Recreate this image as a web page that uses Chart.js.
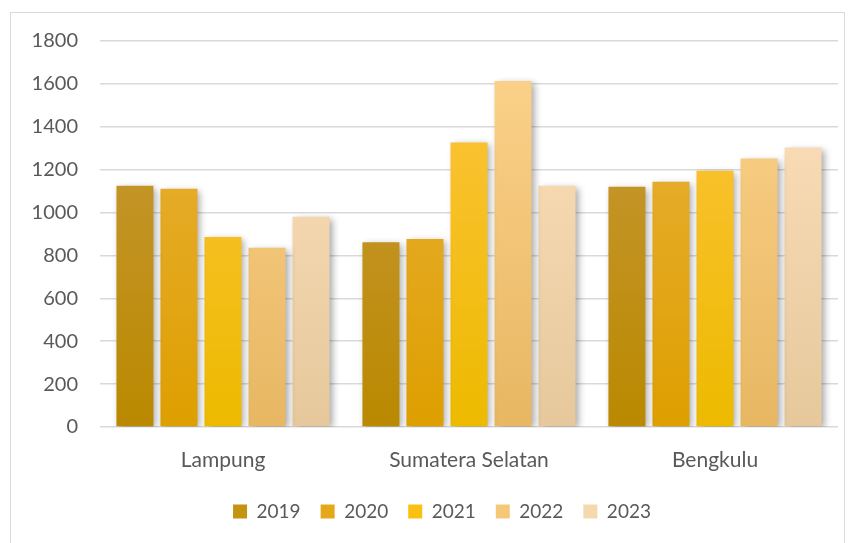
<!DOCTYPE html>
<html>
<head>
<meta charset="utf-8">
<script src="https://cdn.jsdelivr.net/npm/chart.js@4"></script>
<style>
  html, body { margin: 0; padding: 0; background: #fff; }
  #wrap { position: relative; width: 854px; height: 543px; }
  #frame { position: absolute; left: 10px; top: 12px; width: 835px; height: 540px; border: 1px solid #d9d9d9; box-sizing: border-box; }
  canvas { position: absolute; left: 0; top: 0; }
</style>
</head>
<body>
<div id="wrap">
  <div id="frame"></div>
  <canvas id="chart" width="854" height="543"></canvas>
</div>
<script>
// Data
const regions = ['Lampung', 'Sumatera Selatan', 'Bengkulu'];
const years = ['2019', '2020', '2021', '2022', '2023'];
const v2019 = [1125, 862, 1120];
const v2020 = [1111, 877, 1144];
const v2021 = [886, 1327, 1195];
const v2022 = [836, 1613, 1252];
const v2023 = [980, 1125, 1303];
const yTicks = [0, 200, 400, 600, 800, 1000, 1200, 1400, 1600, 1800];

// gradient colours, top -> bottom
const topColors = ['#C99B3E', '#EAB23F', '#FEC43F', '#FDD38D', '#FEE2BD'];
const bottomColors = ['#BA8900', '#DE9F00', '#EDBA00', '#E7B762', '#E6C89C'];
const midColors = ['#C4930F', '#E5A81A', '#FBC112', '#F5C878', '#F4D8AE'];

function gradientFor(i) {
    return (context) => {
        const chart = context.chart;
        const area = chart.chartArea;
        if (!area) return midColors[i];
        const g = chart.ctx.createLinearGradient(0, area.top, 0, area.bottom);
        g.addColorStop(0, topColors[i]);
        g.addColorStop(1, bottomColors[i]);
        return g;
    };
}

const series = [v2019, v2020, v2021, v2022, v2023];

const shadowPlugin = {
    id: 'barShadow',
    beforeDatasetsDraw(chart) {
        const ctx = chart.ctx;
        ctx.save();
        ctx.shadowColor = 'rgba(0,0,0,0.35)';
        ctx.shadowBlur = 7;
        ctx.shadowOffsetX = 3;
        ctx.shadowOffsetY = 2;
    },
    afterDatasetsDraw(chart) {
        chart.ctx.restore();
    }
};

// legend in the reference sits a bit right of the canvas centre
const legendShift = {
    id: 'legendShift',
    afterLayout(chart) {
        if (!chart.legend) return;
        chart.legend.left += 23;
        chart.legend.right += 23;
    }
};

new Chart(document.getElementById('chart'), {
    type: 'bar',
    data: {
        labels: regions,
        datasets: years.map((y, i) => ({
            label: y,
            data: series[i],
            backgroundColor: gradientFor(i),
            borderWidth: 0,
            categoryPercentage: 0.895,
            barPercentage: 0.84,
        }))
    },
    options: {
        responsive: false,
        animation: false,
        layout: { padding: { left: 0, right: 16, top: 41, bottom: 12 } },
        plugins: {
            tooltip: { enabled: false },
            legend: {
                position: 'bottom',
                labels: {
                    font: { family: 'Lato', size: 19 },
                    color: '#595959',
                    boxWidth: 14,
                    boxHeight: 14,
                    padding: 20,
                    generateLabels: (chart) => years.map((y, i) => ({
                        text: y,
                        fillStyle: midColors[i],
                        strokeStyle: midColors[i],
                        lineWidth: 0,
                        fontColor: '#595959',
                        datasetIndex: i,
                    }))
                }
            }
        },
        scales: {
            y: {
                min: 0,
                max: 1800,
                afterBuildTicks: (scale) => { scale.ticks = yTicks.map(v => ({ value: v })); },
                afterFit: (scale) => { scale.width = 100; },
                border: { display: false },
                grid: { color: '#d9d9d9', lineWidth: 1.5, drawTicks: false },
                ticks: {
                    padding: 22,
                    color: '#595959',
                    font: { family: 'Lato', size: 20 },
                    callback: (v) => String(v),
                }
            },
            x: {
                afterFit: (scale) => { scale.height = 55; },
                border: { display: false },
                grid: { display: false },
                ticks: {
                    padding: 13,
                    color: '#595959',
                    font: { family: 'Lato', size: 21 },
                }
            }
        }
    },
    plugins: [shadowPlugin, legendShift]
});
</script>
</body>
</html>
